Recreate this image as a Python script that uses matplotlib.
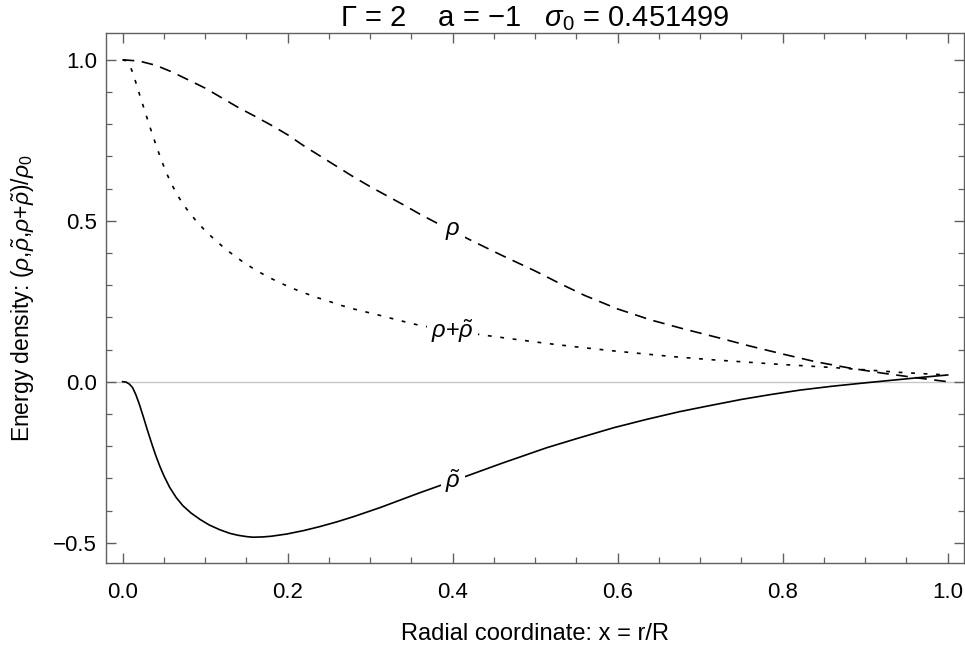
import numpy as np
import matplotlib
matplotlib.use("Agg")
import matplotlib.pyplot as plt
from matplotlib.ticker import MultipleLocator, FuncFormatter

plt.rcParams['font.family'] = ['Liberation Sans', 'DejaVu Sans']
plt.rcParams['mathtext.fontset'] = 'custom'
plt.rcParams['mathtext.rm'] = 'Liberation Sans'
plt.rcParams['mathtext.it'] = 'Liberation Sans:italic'

# --- data ---
x_rho = [0, 0.02, 0.04, 0.06, 0.08, 0.1, 0.12, 0.14, 0.16, 0.18, 0.2, 0.22, 0.24, 0.26,
         0.28, 0.3, 0.32, 0.34, 0.36, 0.38, 0.4, 0.42, 0.44, 0.46, 0.48, 0.5, 0.53, 0.56,
         0.6, 0.64, 0.68, 0.72, 0.76, 0.8, 0.84, 0.88, 0.92, 0.96, 1.0]
y_rho = [1.0, 0.996, 0.983, 0.962, 0.937, 0.912, 0.882, 0.852, 0.825, 0.797, 0.767, 0.732,
         0.700, 0.668, 0.636, 0.606, 0.578, 0.550, 0.521, 0.494, 0.468, 0.442, 0.417, 0.392,
         0.368, 0.344, 0.305, 0.268, 0.226, 0.192, 0.164, 0.138, 0.111, 0.086, 0.062, 0.043,
         0.027, 0.013, 0.0]

x_sum = [0, 0.004, 0.008, 0.011, 0.015, 0.021, 0.026, 0.031, 0.036, 0.041, 0.047, 0.053,
         0.060, 0.069, 0.078, 0.088, 0.099, 0.11, 0.122, 0.134, 0.147, 0.16, 0.175, 0.191,
         0.205, 0.219, 0.235, 0.251, 0.265, 0.28, 0.296, 0.312, 0.336, 0.36, 0.38, 0.4,
         0.437, 0.475, 0.514, 0.554, 0.594, 0.63, 0.667, 0.71, 0.75, 0.79, 0.829, 0.861,
         0.9, 0.942, 0.97, 1.0]
y_sum = [1.0, 0.997, 0.985, 0.968, 0.938, 0.888, 0.848, 0.808, 0.769, 0.731, 0.688, 0.649,
         0.610, 0.569, 0.535, 0.503, 0.472, 0.445, 0.418, 0.394, 0.370, 0.349, 0.327, 0.307,
         0.291, 0.277, 0.262, 0.249, 0.237, 0.226, 0.216, 0.206, 0.190, 0.175, 0.166, 0.158,
         0.145, 0.132, 0.119, 0.107, 0.096, 0.087, 0.078, 0.069, 0.062, 0.055, 0.049, 0.044,
         0.037, 0.029, 0.025, 0.021]

x_tilde = [0, 0.004, 0.008, 0.012, 0.016, 0.020, 0.025, 0.030, 0.035, 0.040, 0.045, 0.050,
           0.057, 0.065, 0.073, 0.083, 0.094, 0.105, 0.118, 0.13, 0.14, 0.15, 0.158, 0.17,
           0.18, 0.199, 0.22, 0.239, 0.26, 0.28, 0.312, 0.36, 0.417, 0.46, 0.514, 0.55, 0.595,
           0.635, 0.675, 0.71, 0.75, 0.785, 0.821, 0.86, 0.902, 0.942, 0.97, 1.0]
y_tilde = [0, -0.001, -0.007, -0.018, -0.040, -0.068, -0.108, -0.150, -0.190, -0.228,
           -0.262, -0.292, -0.328, -0.360, -0.385, -0.408, -0.428, -0.445, -0.460, -0.471,
           -0.477, -0.481, -0.483, -0.482, -0.480, -0.473, -0.462, -0.450, -0.435, -0.419,
           -0.391, -0.345, -0.293, -0.253, -0.205, -0.177, -0.143, -0.117, -0.093, -0.075,
           -0.055, -0.040, -0.026, -0.014, -0.003, 0.007, 0.014, 0.021]

label_x = 0.40
title = "Γ = 2    a = −1   $\\sigma_0$ = 0.451499"

fig = plt.figure(figsize=(9.65, 6.48), dpi=100)
ax = fig.add_axes([0.1098, 0.1312, 0.8892, 0.8178])

ax.axhline(0, color='#c8c8c8', lw=1.0, zorder=1)
ax.plot(x_rho, y_rho, color='black', lw=1.2, dashes=(7, 4.5), zorder=2)
ax.plot(x_sum, y_sum, color='black', lw=1.2, dashes=(2.3, 5.2), zorder=2)
ax.plot(x_tilde, y_tilde, color='black', lw=1.2, zorder=2)

box = dict(facecolor='white', edgecolor='none', pad=3)
ax.text(label_x, np.interp(label_x, x_rho, y_rho), r"$\rho$", fontsize=17,
        ha='center', va='center', bbox=box, zorder=3)
ax.text(label_x, np.interp(label_x, x_sum, y_sum), r"$\rho$+$\tilde{\rho}$", fontsize=17,
        ha='center', va='center', bbox=box, zorder=3)
ax.text(label_x, np.interp(label_x, x_tilde, y_tilde), r"$\tilde{\rho}$", fontsize=17,
        ha='center', va='center', bbox=box, zorder=3)

ax.set_xlim(-0.0202, 1.0198)
ax.set_ylim(-0.563, 1.083)
ax.xaxis.set_major_locator(MultipleLocator(0.2))
ax.xaxis.set_minor_locator(MultipleLocator(0.05))
ax.yaxis.set_major_locator(MultipleLocator(0.5))
ax.yaxis.set_minor_locator(MultipleLocator(0.1))
fmt = FuncFormatter(lambda v, p: f"{v:.1f}".replace('-', '\u2212'))
ax.xaxis.set_major_formatter(fmt)
ax.yaxis.set_major_formatter(fmt)

frame_col = '#606060'
for s in ax.spines.values():
    s.set_color(frame_col)
    s.set_linewidth(1.0)
ax.tick_params(which='both', direction='in', top=True, right=True, color=frame_col,
               labelsize=16, labelcolor='black')
ax.tick_params(which='major', length=7, width=1.0)
ax.tick_params(which='minor', length=4, width=0.9)
ax.tick_params(axis='x', which='major', pad=13.5)
ax.tick_params(axis='y', which='major', pad=6.5)

ax.set_xlabel("Radial coordinate: x = r/R", fontsize=17, va='center')
ax.xaxis.set_label_coords(0.5, -0.134)
ax.set_ylabel(r"Energy density: ($\rho$,$\tilde{\rho}$,$\rho$+$\tilde{\rho}$)/$\rho_0$",
              fontsize=16.5, va='center')
ax.yaxis.set_label_coords(-0.097, 0.5)
ax.set_title(title, fontsize=21, pad=1)

fig.savefig("out.png", dpi=100)
